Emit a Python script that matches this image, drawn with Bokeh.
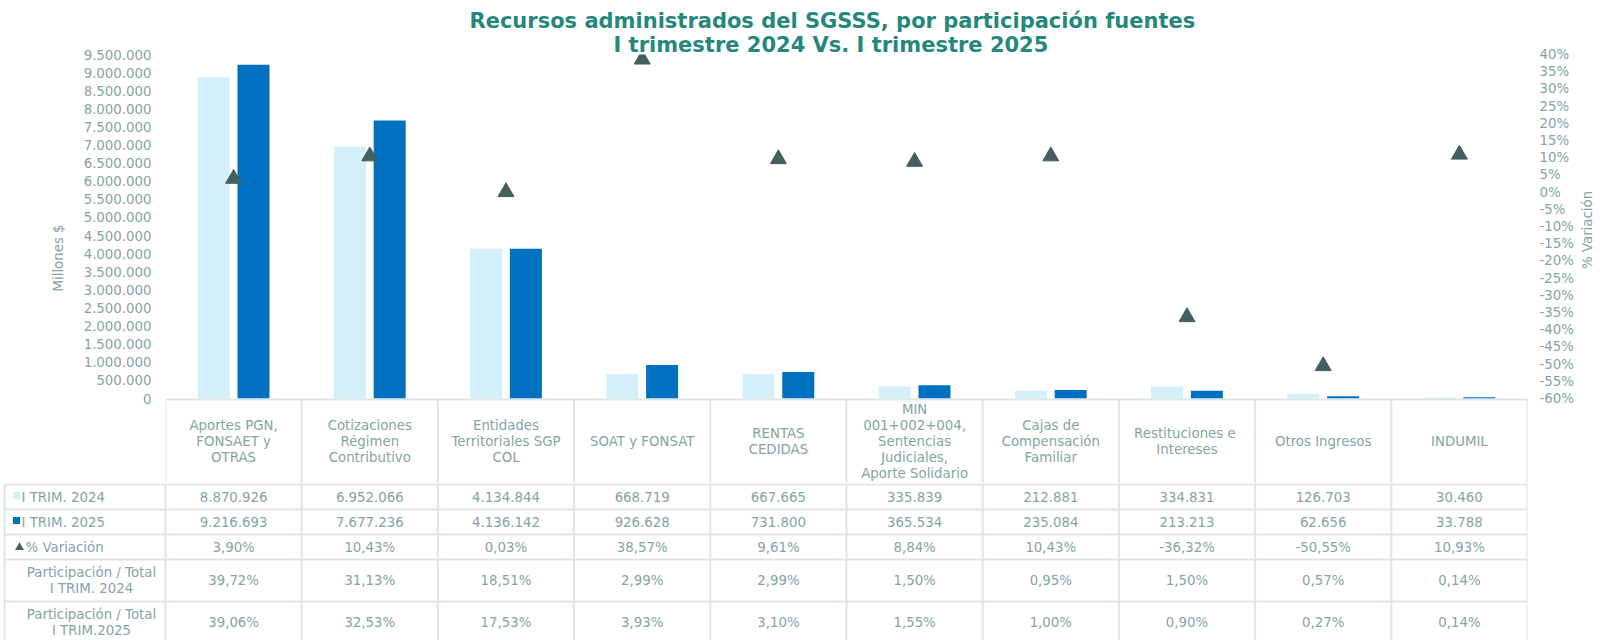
import math
from bokeh.plotting import figure
from bokeh.models import Range1d, LinearAxis, FixedTicker, CustomJSTickFormatter, ColumnDataSource, Title
from bokeh.layouts import column
from bokeh.core.properties import value
from bokeh.embed import file_html
from bokeh.resources import INLINE

# ---------------- data ----------------
categories = [
    "Aportes PGN,\nFONSAET y\nOTRAS",
    "Cotizaciones\nRégimen\nContributivo",
    "Entidades\nTerritoriales SGP\nCOL",
    "SOAT y FONSAT",
    "RENTAS\nCEDIDAS",
    "MIN\n001+002+004,\nSentencias\nJudiciales,\nAporte Solidario",
    "Cajas de\nCompensación\nFamiliar",
    "Restituciones  e\nIntereses",
    "Otros Ingresos",
    "INDUMIL",
]
trim_2024 = [8870926, 6952066, 4134844, 668719, 667665, 335839, 212881, 334831, 126703, 30460]
trim_2025 = [9216693, 7677236, 4136142, 926628, 731800, 365534, 235084, 213213, 62656, 33788]
variacion = [3.90, 10.43, 0.03, 38.57, 9.61, 8.84, 10.43, -36.32, -50.55, 10.93]
part_2024 = [39.72, 31.13, 18.51, 2.99, 2.99, 1.50, 0.95, 1.50, 0.57, 0.14]
part_2025 = [39.06, 32.53, 17.53, 3.93, 3.10, 1.55, 1.00, 0.90, 0.27, 0.14]
left_ticks = list(range(0, 9500001, 500000))
right_ticks = list(range(-60, 41, 5))
row_labels = ["I TRIM. 2024", "I TRIM. 2025", "% Variación",
              "Participación / Total\nI TRIM. 2024", "Participación / Total\nI TRIM.2025"]
title_lines = ["Recursos administrados del SGSSS, por participación fuentes",
               "I trimestre 2024 Vs. I trimestre 2025"]

# ---------------- style / layout ----------------
FONT = "DejaVu Sans"
FS = "13.33px"
TXT = "#86A4A4"
TITLE_C = "#26887B"
LIGHT = "#D3EFFA"
DARK = "#0070C0"
TRI = "#455E5E"
GRIDC = "#DDE6E6"

W = 1606
PAGE_H = 640
BASE = 398          # page y of value 0 (top of the table)
HDR_BOT = 483       # page y where the chart figure ends (bottom of header row)
TOP_H = HDR_BOT
TAB_H = PAGE_H - TOP_H
FRAME_L = 165
FRAME_R = W - 1527
FRAME_T = 54
n = len(categories)
plot_w = W - FRAME_L - FRAME_R
col_w = plot_w / n
axis_px = BASE - FRAME_T
Y_MAX = left_ticks[-1]
PCT_MIN, PCT_MAX = right_ticks[0], right_ticks[-1]
k_left = Y_MAX / axis_px
k_pct = (PCT_MAX - PCT_MIN) / axis_px
EXT = HDR_BOT - BASE


def tx(page_x):
    return (page_x - FRAME_L) / col_w


def py1(page_y):
    return (BASE - page_y) * k_left


def fmt_int(v):
    return f"{v:,}".replace(",", ".")


def fmt_pct(v):
    return f"{v:.2f}".replace(".", ",") + "%"


centers = [i + 0.5 for i in range(n)]
src = ColumnDataSource(dict(
    xc=centers,
    x24=[c - 0.146 for c in centers],
    x25=[c + 0.146 for c in centers],
    v24=trim_2024, v25=trim_2025, var=variacion,
))

text_kw = dict(text_font=value(FONT), text_font_size=value(FS), text_color=TXT,
               text_line_height=1.06, text_baseline="middle")

# ---------------- chart (with table header row) ----------------
p1 = figure(width=W, height=TOP_H, x_range=Range1d(0, n), y_range=Range1d(-EXT * k_left, Y_MAX),
            output_backend="svg", toolbar_location=None, x_axis_location=None, title=None,
            min_border_left=FRAME_L, min_border_right=FRAME_R, min_border_top=FRAME_T,
            min_border_bottom=0)
p1.frame_align = False
p1.extra_y_ranges = {"pct": Range1d(PCT_MIN - EXT * k_pct, PCT_MAX)}
p1.outline_line_color = None
p1.grid.visible = False

for txt, off, so in reversed(list(zip(title_lines, (304, 448), (0, -4)))):
    p1.add_layout(Title(text=txt, align="left", offset=off, text_font=FONT, text_font_size="21px",
                        text_font_style="bold", text_color=TITLE_C, standoff=so), "above")

ya = p1.yaxis[0]
ya.ticker = FixedTicker(ticks=left_ticks)
ya.formatter = CustomJSTickFormatter(
    code="return Math.round(tick).toString().replace(/\\B(?=(\\d{3})+(?!\\d))/g, '.');")
ra = LinearAxis(y_range_name="pct", ticker=FixedTicker(ticks=right_ticks),
                formatter=CustomJSTickFormatter(code="return tick.toFixed(0) + '%';"),
                axis_label="% Variación")
p1.add_layout(ra, "right")
for ax, st in ((ya, 14), (ra, 12)):
    ax.axis_line_color = None
    ax.major_tick_line_color = None
    ax.minor_tick_line_color = None
    ax.major_tick_out = 0
    ax.major_tick_in = 0
    ax.major_label_standoff = st
    ax.major_label_text_font = FONT
    ax.major_label_text_font_size = FS
    ax.major_label_text_color = TXT
    ax.axis_label_text_font = FONT
    ax.axis_label_text_font_size = FS
    ax.axis_label_text_color = TXT
    ax.axis_label_text_font_style = "normal"
ra.axis_label_standoff = 11
if "axis_label_orientation" in ra.properties():
    ra.axis_label_orientation = math.pi / 2
    ra.axis_label_text_baseline = "middle"

p1.add_layout(Title(text="Millones $", align="left", offset=TOP_H - 291, text_font=FONT,
                    text_font_size=FS, text_font_style="normal", text_color=TXT, standoff=30),
              "left")

p1.vbar(x="x24", top="v24", width=0.235, bottom=0, fill_color=LIGHT, line_color=None, source=src)
p1.vbar(x="x25", top="v25", width=0.235, bottom=0, fill_color=DARK, line_color=None, source=src)
p1.scatter(x="xc", y="var", marker="triangle", size=16, fill_color=TRI, line_color=TRI,
           y_range_name="pct", source=src)

# header row of the table
top_y = py1(BASE + 1)
low_y = py1(HDR_BOT + 2)
p1.segment(x0=[0] + list(range(n + 1)), y0=[top_y] * (n + 2),
           x1=[n] + list(range(n + 1)), y1=[top_y] + [low_y] * (n + 1),
           line_color=GRIDC, line_width=2)
p1.text(x=centers, y=[py1(441)] * n, text=categories, text_align="center", **text_kw)

# ---------------- table body ----------------
x0 = -FRAME_L / col_w
p2 = figure(width=W, height=TAB_H, x_range=Range1d(x0, n),
            y_range=Range1d(PAGE_H - (BASE + 1), TOP_H - (BASE + 1)),
            output_backend="svg", toolbar_location=None, x_axis_location=None,
            y_axis_location=None, title=None, min_border_left=0, min_border_right=FRAME_R,
            min_border_top=0, min_border_bottom=0)
p2.frame_align = False
p2.outline_line_color = None
p2.grid.visible = False

row_edges = [85, 110, 135, 160, 202, 244]
xl = tx(4)
hx0, hy0, hx1, hy1 = [], [], [], []
for e in row_edges:
    hx0.append(xl); hx1.append(n); hy0.append(e); hy1.append(e)
for xv in [xl] + list(range(n + 1)):
    hx0.append(xv); hx1.append(xv); hy0.append(row_edges[0]); hy1.append(row_edges[-1])
p2.segment(x0=hx0, y0=hy0, x1=hx1, y1=hy1, line_color=GRIDC, line_width=2)

row_c = [(row_edges[k] + row_edges[k + 1]) / 2 for k in range(len(row_edges) - 1)]

rows = [[fmt_int(v) for v in trim_2024], [fmt_int(v) for v in trim_2025],
        [fmt_pct(v) for v in variacion], [fmt_pct(v) for v in part_2024],
        [fmt_pct(v) for v in part_2025]]
for r, vals in enumerate(rows):
    p2.text(x=centers, y=[row_c[r]] * n, text=vals, text_align="center", **text_kw)

# row labels
p2.scatter(x=[tx(16)], y=[row_c[0] - 1.5], marker="square", size=7, fill_color=LIGHT, line_color=None)
p2.scatter(x=[tx(16)], y=[row_c[1] - 1.5], marker="square", size=7, fill_color=DARK, line_color=None)
p2.scatter(x=[tx(19)], y=[row_c[2] + 0.5], marker="triangle", size=9, fill_color=TRI, line_color=None)
p2.text(x=[tx(21), tx(21), tx(25)], y=row_c[0:3], text=row_labels[:3], text_align="left", **text_kw)
p2.text(x=[tx(91), tx(91)], y=row_c[3:5], text=row_labels[3:], text_align="center", **text_kw)

layout = column(p1, p2, spacing=0)
open("out.html", "w").write(file_html(layout, INLINE))
